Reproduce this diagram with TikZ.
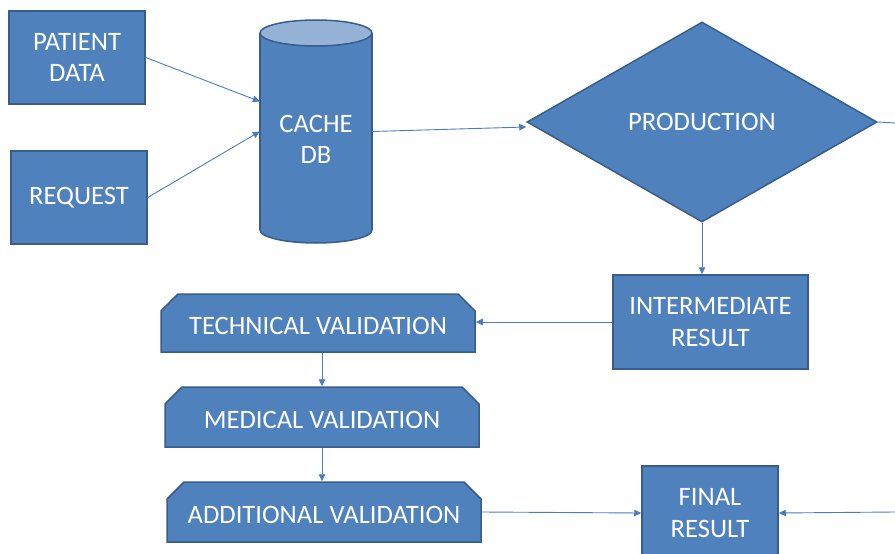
\documentclass[tikz,border=0pt]{standalone}
\usepackage{fontspec}
\setmainfont{Carlito}
\usetikzlibrary{shapes.geometric,shapes.misc,arrows.meta}
\definecolor{boxfill}{HTML}{4F81BD}
\definecolor{boxline}{HTML}{385D8A}
\definecolor{toplight}{HTML}{95B3D7}
\definecolor{lineblue}{HTML}{4A7EBB}
\newcommand{\lowtext}[1]{\raisebox{-2.5pt}[\height][\depth]{#1}}
\begin{document}
\begin{tikzpicture}[x=1pt,y=-1pt,
  base/.style={fill=boxfill,draw=boxline,line width=1.5pt,text=white,
    font=\fontsize{26.6}{31.5}\selectfont,align=center,inner sep=0pt},
  plainbox/.style={base,rectangle,minimum width=#1,minimum height=93pt},
  chambox/.style={base,chamfered rectangle,
    chamfered rectangle corners={north west,north east},
    chamfered rectangle xsep=8pt,chamfered rectangle ysep=9pt,
    minimum width=314pt,minimum height=#1},
  arrowline/.style={draw=lineblue,line width=0.9pt,-{Triangle[length=7pt,width=6.5pt]}},
  plainline/.style={draw=lineblue,line width=0.9pt}]
\useasboundingbox (0,0) rectangle (895,554);
\clip (0,0) rectangle (895,554);

% cylinder drawn by hand
\fill[boxfill,draw=boxline,line width=1.5pt] (316,230) ellipse [x radius=56, y radius=13];
\fill[boxfill] (260,33) rectangle (372,230);
\draw[boxline,line width=1.5pt] (260,33) -- (260,230) (372,33) -- (372,230);
\fill[toplight,draw=boxline,line width=1.5pt] (316,33) ellipse [x radius=56, y radius=13];
\node[minimum width=112pt,minimum height=223pt,inner sep=0pt] (cyl) at (316,131.5) {};
\node[text=white,font=\fontsize{26.6}{31.5}\selectfont,align=center] (cyltext) at (316,139.5) {CACHE\\DB};

\node[plainbox=136pt] (pd) at (77,57.5) {PATIENT\\DATA};
\node[plainbox=136pt] (rq) at (79,197.5) {REQUEST};
\node[base,diamond,minimum width=350pt,minimum height=200pt] (prod) at (702,122) {PRODUCTION};
\node[plainbox=195pt,minimum height=94pt] (inter) at (710.5,322) {INTERMEDIATE\\RESULT};
\node[plainbox=136pt,minimum height=94pt] (final) at (710,513) {FINAL\\RESULT};
\node[chambox=58pt] (tech) at (318,323) {\lowtext{TECHNICAL VALIDATION}};
\node[chambox=60pt] (med) at (322,417) {\lowtext{MEDICAL VALIDATION}};
\node[chambox=60pt] (add) at (324,512) {\lowtext{ADDITIONAL VALIDATION}};

\coordinate (rightout) at (895,123);
\coordinate (rightin) at (895,512);

\draw[arrowline] (pd.east) -- ([yshift=30pt]cyl.west);
\draw[arrowline] (rq.east) -- (cyl.west);
\draw[arrowline] (cyl.east) -- ([yshift=-5pt]prod.west);
\draw[plainline] (prod.east) -- (rightout);
\draw[arrowline] (prod.south) -- (prod.south |- inter.north);
\draw[arrowline] (inter.west) -- (inter.west -| tech.east);
\draw[arrowline] ([xshift=4pt]tech.south) -- (med.north);
\draw[arrowline] (med.south) -- (med.south |- add.north);
\draw[arrowline] (add.east) -- (final.west);
\draw[arrowline] (rightin) -- (final.east);
\end{tikzpicture}
\end{document}
